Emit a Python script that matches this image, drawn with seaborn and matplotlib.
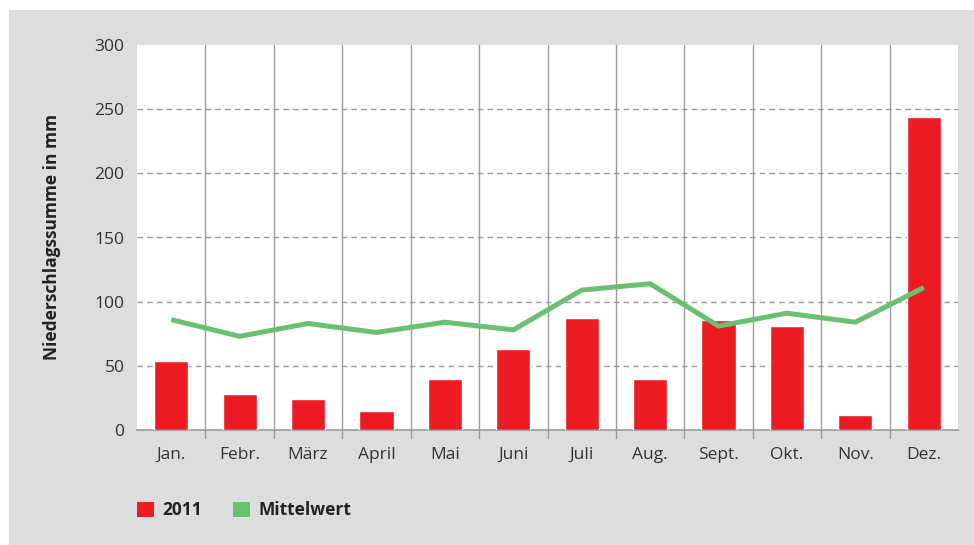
import matplotlib
matplotlib.use("Agg")
import matplotlib.pyplot as plt
import matplotlib.patches as mpatches
import seaborn as sns
import pandas as pd
import numpy as np

months = ["Jan.", "Febr.", "März", "April", "Mai", "Juni", "Juli", "Aug.", "Sept.", "Okt.", "Nov.", "Dez."]
values_2011 = [54, 28, 24, 15, 40, 63, 87, 40, 86, 81, 12, 244]
mittelwert = [86, 73, 83, 76, 84, 78, 109, 114, 81, 91, 84, 111]
y_ticks = [0, 50, 100, 150, 200, 250, 300]

RED = "#ed1c24"
GREEN = "#69c16f"
BG = "#dcdddf"
GRID = "#9a9a9a"
TEXT = "#333333"

sns.set_theme(style="white")
plt.rcParams["font.family"] = ["Open Sans", "DejaVu Sans"]

df = pd.DataFrame({"Monat": months, "2011": values_2011, "Mittelwert": mittelwert})

fig = plt.figure(figsize=(9.74, 5.45), dpi=100, facecolor="white")
bgrect = mpatches.Rectangle((9 / 974, 0), 1 - 9 / 974, 1 - 10 / 545,
                            transform=fig.transFigure, facecolor=BG,
                            edgecolor="none", zorder=-10)
fig.patches.append(bgrect)
ax = fig.add_axes([137 / 974, 1 - 430 / 545, (958 - 137) / 974, (430 - 45) / 545])
ax.set_facecolor("white")

sns.barplot(data=df, x="Monat", y="2011", color=RED, width=0.5, saturation=1,
            ax=ax, zorder=3)
x = np.arange(len(months))
sns.lineplot(x=x, y=df["Mittelwert"].values, color=GREEN, linewidth=3.6, ax=ax,
             zorder=4, solid_capstyle="butt")

ax.set_xlim(-0.5, len(months) - 0.5)
ax.set_ylim(0, 300)
ax.set_yticks(y_ticks)
ax.set_yticklabels([str(v) for v in y_ticks], fontsize=12.5, color=TEXT)
ax.set_xticks(x)
ax.set_xticklabels(months, fontsize=12.5, color=TEXT)
ax.tick_params(axis="both", length=0, pad=9)
ax.tick_params(axis="x", pad=12)

for v in y_ticks[1:-1]:
    ax.axhline(v, color=GRID, linestyle=(0, (4, 3)), linewidth=1, zorder=1)
for b in np.arange(0.5, len(months) - 1, 1.0):
    ax.plot([b, b], [0, 300], color=GRID, linewidth=1, zorder=1, clip_on=False)
    ax.plot([b, b], [0, -6.5], color=GRID, linewidth=1, zorder=1, clip_on=False)

for s in ["top", "right", "left"]:
    ax.spines[s].set_visible(False)
ax.spines["bottom"].set_color(GRID)
ax.spines["bottom"].set_linewidth(1.2)

ax.set_xlabel("")
ax.set_ylabel("Niederschlagssumme in mm", fontsize=12.5, fontweight="bold", color="#222222", labelpad=24)

handles = [mpatches.Patch(facecolor=RED, edgecolor="none", label="2011"),
           mpatches.Patch(facecolor=GREEN, edgecolor="none", label="Mittelwert")]
leg = fig.legend(handles=handles, loc="lower left", bbox_to_anchor=(121 / 974, 10 / 545),
                 ncol=2, frameon=False, handlelength=1.0, handleheight=1.0,
                 handletextpad=0.5, columnspacing=1.75,
                 prop={"size": 12.5, "weight": "bold"})
for t in leg.get_texts():
    t.set_color("#222222")

fig.savefig("out.png", dpi=100, facecolor="white")
